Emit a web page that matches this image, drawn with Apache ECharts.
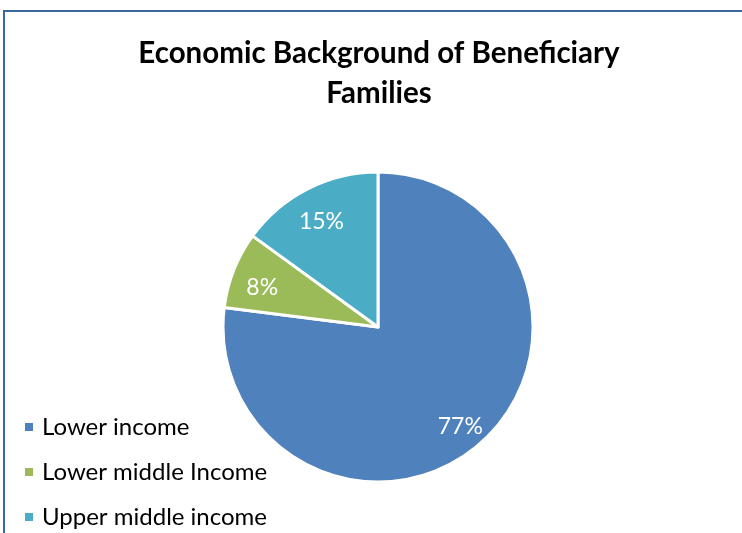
<!DOCTYPE html>
<html>
<head>
<meta charset="utf-8">
<script src="https://cdn.jsdelivr.net/npm/echarts@6/dist/echarts.min.js"></script>
<style>
	html, body {
		margin: 0;
		padding: 0;
		background: #FFF;
	}
	#main {
		width: 742px;
		height: 533px;
	}
</style>
</head>
<body>
<div id="main"></div>
<script>
	// data
	var categories = ['Lower income', 'Lower middle Income', 'Upper middle income'];
	var shares = [77, 8, 15];
	var colors = ['#4F81BD', '#9BBB59', '#4BACC6'];

	var pieData = categories.map(function (name, i) {
		return { name: name, value: shares[i] };
	});

	var myChart = echarts.init(document.getElementById('main'));
	myChart.setOption({
		backgroundColor: '#FFF',
		color: colors,
		animation: false,
		title: {
			text: 'Economic Background of Beneficiary\nFamilies',
			left: 374,
			top: 28,
			textAlign: 'center',
			textStyle: {
				fontFamily: 'Lato',
				fontWeight: 'bold',
				fontSize: 29.5,
				lineHeight: 40,
				color: '#000'
			}
		},
		legend: {
			orient: 'vertical',
			left: 23,
			top: 415,
			padding: 0,
			itemWidth: 10,
			itemHeight: 10,
			itemGap: 21,
			icon: 'rect',
			data: categories.map(function (name, i) {
				return { name: name, itemStyle: { color: colors[i] } };
			}),
			textStyle: {
				fontFamily: 'Lato',
				fontSize: 24,
				lineHeight: 24,
				color: '#000',
				padding: [0, 0, 0, 3]
			}
		},
		graphic: [{
			type: 'polyline', // frame of the chart area
			silent: true,
			shape: { points: [[4, 540], [4, 11], [750, 11]] },
			style: { stroke: '#3c679c', lineWidth: 2, fill: null }
		}],
		series: [{
			type: 'pie',
			center: [378, 327],
			radius: [0, 155],
			startAngle: 90,
			clockwise: true,
			data: pieData,
			label: { show: false },
			labelLine: { show: false },
			itemStyle: {
				borderColor: '#FFF',
				borderWidth: 3
			},
			emphasis: { disabled: true }
		}, {
			// transparent ring only used to place the percent labels further out
			type: 'pie',
			center: [378, 327],
			radius: [88, 155],
			startAngle: 90,
			clockwise: true,
			silent: true,
			data: pieData,
			itemStyle: { color: 'rgba(0,0,0,0)' },
			label: {
				show: true,
				position: 'inside',
				formatter: '{c}%',
				fontFamily: 'Lato',
				fontSize: 23,
				color: '#FFF',
				offset: [0, 6]
			},
			labelLine: { show: false },
			emphasis: { disabled: true }
		}]
	});
</script>
</body>
</html>
